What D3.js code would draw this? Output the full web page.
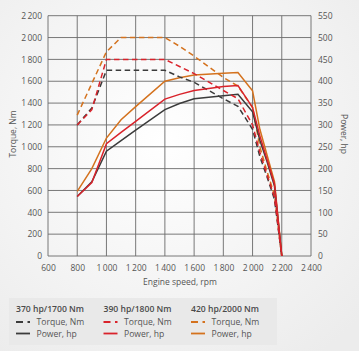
<!DOCTYPE html>
<html>
<head>
<meta charset="utf-8">
<script src="https://cdn.jsdelivr.net/npm/d3@7"></script>
<style>
  html, body { margin: 0; padding: 0; }
  body { width: 359px; height: 351px; overflow: hidden; font-family: "Open Sans", "Noto Sans", sans-serif; }
</style>
</head>
<body>
<div class="container"></div>
<script>
// engine speed, rpm
const rpm = [800, 900, 1000, 1100, 1200, 1400, 1500, 1600, 1800, 1900, 2000, 2050, 2100, 2150, 2200];

// torque, Nm
const torque370 = [1200, 1355, 1700, 1700, 1700, 1700, 1640, 1590, 1440, 1370, 1160, 910, 720, 520, 0];
const torque390 = [1200, 1340, 1800, 1800, 1800, 1800, 1735, 1670, 1515, 1440, 1200, 950, 740, 540, 0];
const torque420 = [1290, 1580, 1870, 2000, 2000, 2000, 1920, 1830, 1635, 1555, 1360, 1000, 770, 560, 0];

// power, hp
const power370 = [136, 170, 240, 264, 288, 335, 349, 360, 367, 370, 330, 265, 215, 160, 0];
const power390 = [136, 168, 257, 283, 308, 359, 370, 379, 388, 390, 340, 275, 220, 165, 0];
const power420 = [148, 200, 270, 312, 342, 400, 408, 414, 418, 420, 378, 290, 230, 170, 0];

const xTicks = [600, 800, 1000, 1200, 1400, 1600, 1800, 2000, 2200, 2400];
const torqueTicks = [0, 200, 400, 600, 800, 1000, 1200, 1400, 1600, 1800, 2000, 2200];
const powerTicks = [0, 50, 100, 150, 200, 250, 300, 350, 400, 450, 500, 550];

const models = ["370 hp/1700 Nm", "390 hp/1800 Nm", "420 hp/2000 Nm"];
const colors = ["#3b3b3b", "#d9232b", "#d4721e"];

const W = 359, H = 351;
const margin = { top: 16, right: 48, bottom: 95, left: 48 };

const svg = d3.select(".container").append("svg")
  .attr("width", W).attr("height", H);

// background
const defs = svg.append("defs");
const grad = defs.append("radialGradient").attr("id", "bg")
  .attr("cx", "45%").attr("cy", "40%").attr("r", "75%");
grad.append("stop").attr("offset", "0%").attr("stop-color", "#ffffff");
grad.append("stop").attr("offset", "100%").attr("stop-color", "#ececec");
svg.append("rect").attr("width", W).attr("height", H).attr("fill", "url(#bg)");

const x = d3.scaleLinear().domain([600, 2400]).range([margin.left, 311]);
const yL = d3.scaleLinear().domain([0, 2200]).range([256, 15.7]);
const yR = d3.scaleLinear().domain([0, 550]).range([256, 15.7]);

// grid
const grid = svg.append("g").attr("stroke", "#6a6a6a").attr("stroke-width", 0.9);
grid.selectAll(".vx").data(xTicks).join("line")
  .attr("x1", d => x(d)).attr("x2", d => x(d))
  .attr("y1", yL(0)).attr("y2", yL(2200));
grid.selectAll(".hy").data(torqueTicks).join("line")
  .attr("x1", x(600)).attr("x2", x(2400))
  .attr("y1", d => yL(d)).attr("y2", d => yL(d));

// axes
const tickStyle = g => {
  g.select(".domain").remove();
  g.selectAll(".tick line").remove();
  g.selectAll(".tick text").attr("fill", "#555").style("font-size", "8.5px")
    .style("font-family", "'Open Sans', sans-serif");
};
const fmt = d => d >= 1000 ? d3.format(",")(d).replace(",", "\u2009") : d;

svg.append("g").attr("transform", `translate(0,${yL(0)})`)
  .call(d3.axisBottom(x).tickValues(xTicks).tickFormat(fmt).tickSize(0).tickPadding(9))
  .call(tickStyle);

svg.append("g").attr("transform", `translate(${x(600)},0)`)
  .call(d3.axisLeft(yL).tickValues(torqueTicks).tickFormat(fmt).tickSize(0).tickPadding(6))
  .call(tickStyle);

svg.append("g").attr("transform", `translate(${x(2400)},0)`)
  .call(d3.axisRight(yR).tickValues(powerTicks).tickSize(0).tickPadding(7))
  .call(tickStyle);

svg.append("text").attr("x", 180).attr("y", 285).attr("text-anchor", "middle")
  .attr("fill", "#555").style("font-size", "8.5px").text("Engine speed, rpm");

svg.append("text").attr("transform", "translate(16,134) rotate(-90)")
  .attr("text-anchor", "middle").attr("fill", "#555").style("font-size", "8.5px")
  .text("Torque, Nm");

svg.append("text").attr("transform", "translate(341,134) rotate(90)")
  .attr("text-anchor", "middle").attr("fill", "#555").style("font-size", "8.5px")
  .text("Power, hp");

// curves
const torqueLine = d3.line().x((d, i) => x(rpm[i])).y(d => yL(d));
const powerLine = d3.line().x((d, i) => x(rpm[i])).y(d => yR(d));

const torques = [torque370, torque390, torque420];
const powers = [power370, power390, power420];

// draw in order orange, black, red so red sits on top at the low end
[2, 0, 1].forEach(i => {
  svg.append("path").datum(torques[i])
    .attr("d", torqueLine).attr("fill", "none")
    .attr("stroke", colors[i]).attr("stroke-width", 1.5)
    .attr("stroke-dasharray", "5.5,3.5");
  svg.append("path").datum(powers[i])
    .attr("d", powerLine).attr("fill", "none")
    .attr("stroke", colors[i]).attr("stroke-width", 1.5);
});

// legend
svg.append("rect").attr("x", 9).attr("y", 298).attr("width", 268).attr("height", 47)
  .attr("fill", "#e9e9e9");

const lg = svg.append("g").selectAll("g").data(models).join("g")
  .attr("transform", (d, i) => `translate(${16 + i * 87.5},0)`);

lg.append("text").attr("x", 0).attr("y", 312).attr("fill", "#4a4a4a")
  .style("font-size", "8.6px").style("font-weight", "600").text(d => d);
lg.append("line").attr("x1", 0).attr("x2", 14).attr("y1", 322).attr("y2", 322)
  .attr("stroke", (d, i) => colors[i]).attr("stroke-width", 1.8).attr("stroke-dasharray", "7,4.5,2.5");
lg.append("text").attr("x", 20.5).attr("y", 325).attr("fill", "#555")
  .style("font-size", "8.6px").text("Torque, Nm");
lg.append("line").attr("x1", 0).attr("x2", 14).attr("y1", 333.5).attr("y2", 333.5)
  .attr("stroke", (d, i) => colors[i]).attr("stroke-width", 1.8);
lg.append("text").attr("x", 20.5).attr("y", 336.5).attr("fill", "#555")
  .style("font-size", "8.6px").text("Power, hp");
</script>
</body>
</html>
